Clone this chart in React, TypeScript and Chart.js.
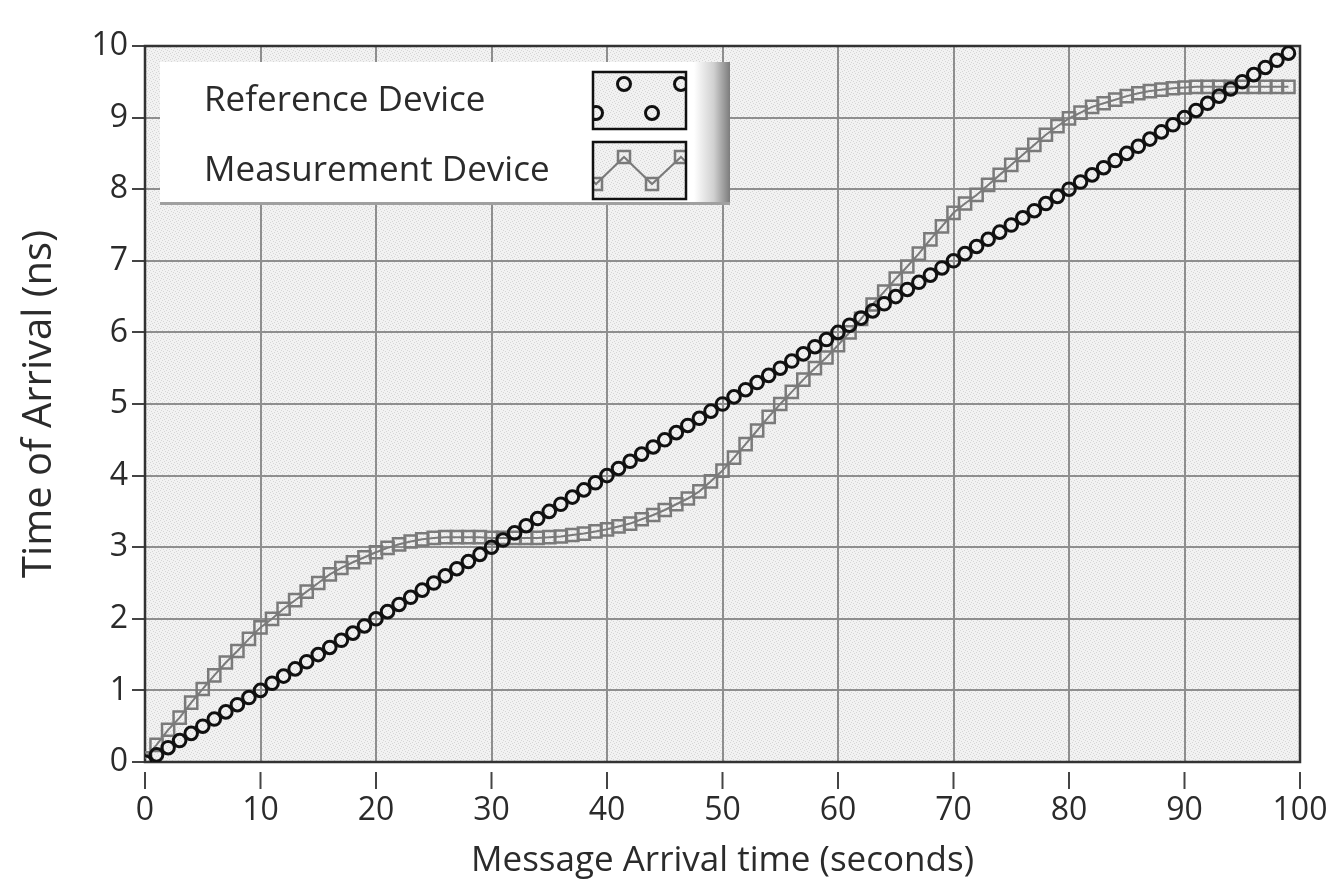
import React, { useEffect, useRef } from "react";
import { Chart, registerables } from "chart.js";

Chart.register(...registerables);

// ---------- data ----------
const arrivalSeconds = [
  0, 1, 2, 3, 4, 5, 6, 7, 8, 9,
  10, 11, 12, 13, 14, 15, 16, 17, 18, 19,
  20, 21, 22, 23, 24, 25, 26, 27, 28, 29,
  30, 31, 32, 33, 34, 35, 36, 37, 38, 39,
  40, 41, 42, 43, 44, 45, 46, 47, 48, 49,
  50, 51, 52, 53, 54, 55, 56, 57, 58, 59,
  60, 61, 62, 63, 64, 65, 66, 67, 68, 69,
  70, 71, 72, 73, 74, 75, 76, 77, 78, 79,
  80, 81, 82, 83, 84, 85, 86, 87, 88, 89,
  90, 91, 92, 93, 94, 95, 96, 97, 98, 99,
];

const referenceToA = [
  0, 0.1, 0.2, 0.3, 0.4, 0.5, 0.6, 0.7, 0.8, 0.9,
  1.0, 1.1, 1.2, 1.3, 1.4, 1.5, 1.6, 1.7, 1.8, 1.9,
  2.0, 2.1, 2.2, 2.3, 2.4, 2.5, 2.6, 2.7, 2.8, 2.9,
  3.0, 3.1, 3.2, 3.3, 3.4, 3.5, 3.6, 3.7, 3.8, 3.9,
  4.0, 4.1, 4.2, 4.3, 4.4, 4.5, 4.6, 4.7, 4.8, 4.9,
  5.0, 5.1, 5.2, 5.3, 5.4, 5.5, 5.6, 5.7, 5.8, 5.9,
  6.0, 6.1, 6.2, 6.3, 6.4, 6.5, 6.6, 6.7, 6.8, 6.9,
  7.0, 7.1, 7.2, 7.3, 7.4, 7.5, 7.6, 7.7, 7.8, 7.9,
  8.0, 8.1, 8.2, 8.3, 8.4, 8.5, 8.6, 8.7, 8.8, 8.9,
  9.0, 9.1, 9.2, 9.3, 9.4, 9.5, 9.6, 9.7, 9.8, 9.9,
];

const measurementToA = [
  0.05, 0.24, 0.45, 0.62, 0.83, 1.02, 1.21, 1.39, 1.55, 1.72,
  1.88, 2.0, 2.14, 2.26, 2.38, 2.5, 2.62, 2.71, 2.79, 2.86,
  2.93, 2.99, 3.04, 3.08, 3.11, 3.13, 3.14, 3.14, 3.14, 3.14,
  3.13, 3.13, 3.13, 3.13, 3.13, 3.14, 3.15, 3.17, 3.19, 3.22,
  3.25, 3.29, 3.33, 3.39, 3.45, 3.52, 3.6, 3.68, 3.78, 3.92,
  4.07, 4.25, 4.44, 4.63, 4.82, 5.0, 5.17, 5.34, 5.5, 5.65,
  5.82, 6.0, 6.19, 6.39, 6.57, 6.75, 6.92, 7.1, 7.3, 7.48,
  7.67, 7.8, 7.92, 8.06, 8.2, 8.34, 8.48, 8.62, 8.76, 8.88,
  8.99, 9.07, 9.15, 9.2, 9.25, 9.3, 9.34, 9.37, 9.39, 9.41,
  9.42, 9.43, 9.43, 9.43, 9.43, 9.43, 9.43, 9.43, 9.43, 9.43,
];

const xTickValues = [0, 10, 20, 30, 40, 50, 60, 70, 80, 90, 100];
const seriesNames = ["Reference Device", "Measurement Device"];
const xAxisTitle = "Message Arrival time (seconds)";
const yAxisTitle = "Time of Arrival (ns)";

// ---------- styles ----------
const FONT = '"Open Sans", "Noto Sans", sans-serif';
const TEXT = "#2b2b2b";
const GRID = "#8e8e8e";
const REF_COLOR = "#111111";
const MEAS_COLOR = "#7a7a7a";

function makeStipple(ctx: CanvasRenderingContext2D) {
  const c = document.createElement("canvas");
  c.width = 6;
  c.height = 6;
  const g = c.getContext("2d")!;
  g.fillStyle = "#f2f2f2";
  g.fillRect(0, 0, 6, 6);
  g.fillStyle = "#d6d6d6";
  const dots = [
    [0, 0], [3, 1], [1, 3], [4, 4], [5, 2], [2, 5],
  ];
  dots.forEach(([x, y]) => g.fillRect(x, y, 1, 1));
  return ctx.createPattern(c, "repeat") || "#ececec";
}

const framePlugin = {
  id: "framePlugin",
  beforeDraw(chart: any) {
    const { ctx, chartArea: a, width, height } = chart;
    ctx.save();
    ctx.fillStyle = "#ffffff";
    ctx.fillRect(0, 0, width, height);
    ctx.fillStyle = makeStipple(ctx);
    ctx.fillRect(a.left, a.top, a.right - a.left, a.bottom - a.top);
    ctx.restore();
  },
  beforeDatasetsDraw(chart: any) {
    const { ctx, chartArea: a, scales } = chart;
    ctx.save();
    ctx.strokeStyle = "#333333";
    ctx.lineWidth = 2.5;
    ctx.strokeRect(a.left, a.top, a.right - a.left, a.bottom - a.top);
    ctx.strokeStyle = "#444444";
    ctx.lineWidth = 2;
    xTickValues.forEach((v) => {
      const px = scales.x.getPixelForValue(v);
      ctx.beginPath();
      ctx.moveTo(px, a.bottom + 10);
      ctx.lineTo(px, a.bottom + 27);
      ctx.stroke();
    });
    ctx.restore();
  },
  afterDraw(chart: any) {
    const { ctx, chartArea: a } = chart;
    const L = a.left + 15;
    const T = a.top + 16;
    const R = a.left + 585;
    const B = a.top + 159;
    ctx.save();
    ctx.fillStyle = "#ffffff";
    ctx.fillRect(L, T, R - L, B - T);
    const g = ctx.createLinearGradient(R - 36, 0, R, 0);
    g.addColorStop(0, "#ffffff");
    g.addColorStop(0.55, "#d0d0d0");
    g.addColorStop(1, "#7c7c7c");
    ctx.fillStyle = g;
    ctx.fillRect(R - 36, T, 36, B - T);
    ctx.fillStyle = "#a0a0a0";
    ctx.fillRect(L, B - 3, R - L, 3);

    ctx.fillStyle = TEXT;
    ctx.font = `35px ${FONT}`;
    ctx.textBaseline = "middle";
    ctx.textAlign = "left";
    ctx.fillText(seriesNames[0], L + 44, T + 39);
    ctx.fillText(seriesNames[1], L + 44, T + 109);

    const stipple = makeStipple(ctx);
    const bx = L + 433;
    const bw = 93;
    const bh = 57;
    const b1y = T + 10;
    ctx.fillStyle = stipple;
    ctx.fillRect(bx, b1y, bw, bh);
    ctx.save();
    ctx.beginPath();
    ctx.rect(bx, b1y, bw, bh);
    ctx.clip();
    ctx.strokeStyle = REF_COLOR;
    ctx.lineWidth = 3;
    const refIcon = [
      [bx + 3, b1y + 41],
      [bx + 31, b1y + 12],
      [bx + 59, b1y + 41],
      [bx + 88, b1y + 12],
    ];
    refIcon.forEach(([x, y]) => {
      ctx.beginPath();
      ctx.arc(x, y, 6.5, 0, Math.PI * 2);
      ctx.stroke();
    });
    ctx.restore();
    ctx.strokeStyle = "#111";
    ctx.lineWidth = 2.5;
    ctx.strokeRect(bx, b1y, bw, bh);

    const b2y = T + 80;
    ctx.fillStyle = stipple;
    ctx.fillRect(bx, b2y, bw, bh);
    ctx.save();
    ctx.beginPath();
    ctx.rect(bx, b2y, bw, bh);
    ctx.clip();
    const measIcon = [
      [bx - 25, b2y + 15],
      [bx + 3, b2y + 42],
      [bx + 31, b2y + 15],
      [bx + 59, b2y + 42],
      [bx + 88, b2y + 15],
      [bx + 116, b2y + 42],
    ];
    ctx.strokeStyle = MEAS_COLOR;
    ctx.lineWidth = 2;
    ctx.beginPath();
    measIcon.forEach(([x, y], i) => (i ? ctx.lineTo(x, y) : ctx.moveTo(x, y)));
    ctx.stroke();
    ctx.lineWidth = 2.5;
    measIcon.forEach(([x, y]) => {
      ctx.strokeRect(x - 6, y - 6, 12, 12);
    });
    ctx.restore();
    ctx.strokeStyle = "#111";
    ctx.lineWidth = 2.5;
    ctx.strokeRect(bx, b2y, bw, bh);
    ctx.restore();
  },
};

export default function App() {
  const canvasRef = useRef<HTMLCanvasElement | null>(null);

  useEffect(() => {
    document.body.style.margin = "0";
    const canvas = canvasRef.current;
    if (!canvas) return;

    const refPoints = arrivalSeconds.map((x, i) => ({ x, y: referenceToA[i] }));
    const measPoints = arrivalSeconds.map((x, i) => ({ x, y: measurementToA[i] }));

    const chart = new Chart(canvas, {
      type: "scatter",
      data: {
        datasets: [
          {
            label: seriesNames[0],
            data: refPoints,
            showLine: false,
            pointStyle: "circle",
            pointRadius: 6.3,
            pointBorderWidth: 3,
            pointBorderColor: REF_COLOR,
            pointBackgroundColor: "rgba(0,0,0,0)",
          },
          {
            label: seriesNames[1],
            data: measPoints,
            showLine: true,
            borderColor: MEAS_COLOR,
            borderWidth: 2,
            pointStyle: "rect",
            pointRadius: 8.6,
            pointBorderWidth: 2.5,
            pointBorderColor: MEAS_COLOR,
            pointBackgroundColor: "rgba(0,0,0,0)",
          },
        ],
      },
      options: {
        responsive: false,
        animation: false,
        devicePixelRatio: 1,
        layout: { padding: { left: 18, top: 46, right: 40, bottom: 0 } },
        plugins: {
          legend: { display: false },
          tooltip: { enabled: false },
        },
        scales: {
          x: {
            type: "linear",
            min: 0,
            max: 100,
            ticks: {
              stepSize: 10,
              padding: 30,
              color: TEXT,
              font: { family: FONT, size: 32 },
              maxRotation: 0,
            },
            grid: { color: GRID, lineWidth: 2, drawTicks: false },
            border: { display: false },
            title: {
              display: true,
              text: xAxisTitle,
              color: TEXT,
              font: { family: FONT, size: 35 },
              padding: { top: 0, bottom: -2 },
            },
            afterFit(scale: any) {
              scale.height = 118;
              scale.paddingLeft = 0;
              scale.paddingRight = 0;
            },
          },
          y: {
            type: "linear",
            min: 0,
            max: 10,
            ticks: {
              stepSize: 1,
              padding: 4,
              color: TEXT,
              font: { family: FONT, size: 32 },
            },
            grid: {
              color: GRID,
              lineWidth: 2,
              drawTicks: true,
              tickLength: 13,
              tickColor: "#444444",
              tickWidth: 2,
            },
            border: { display: false },
            title: {
              display: true,
              text: yAxisTitle,
              color: TEXT,
              font: { family: FONT, size: 40 },
              padding: { top: -2, bottom: 0 },
            },
            afterFit(scale: any) {
              scale.width = 127;
              scale.paddingTop = 0;
              scale.paddingBottom = 0;
            },
          },
        },
      },
      plugins: [framePlugin],
    });

    return () => chart.destroy();
  }, []);

  return (
    <div style={{ position: "absolute", left: 0, top: 0, width: 1340, height: 880, background: "#fff" }}>
      <canvas ref={canvasRef} width={1340} height={880} style={{ width: 1340, height: 880, display: "block" }} />
    </div>
  );
}
